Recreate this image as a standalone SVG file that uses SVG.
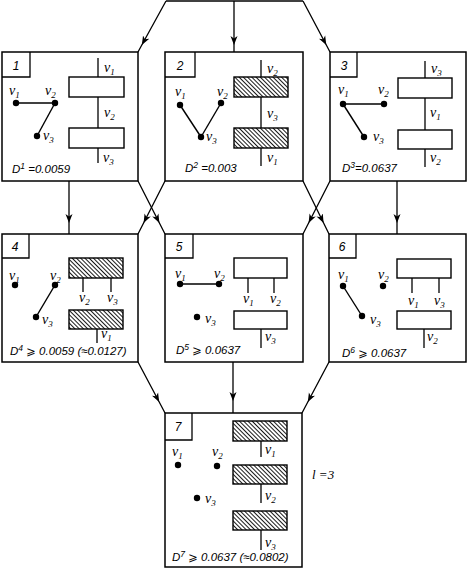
<svg xmlns="http://www.w3.org/2000/svg" width="468" height="571" viewBox="0 0 468 571">
<style>
.box{fill:#fff;stroke:#000;stroke-width:1.5}
.lbl{fill:none;stroke:#000;stroke-width:1.3}
.r{fill:#fff;stroke:#000;stroke-width:1.4}
.h{fill:url(#hatch);stroke:#000;stroke-width:1.4}
.ln{stroke:#000;stroke-width:1.3;fill:none}
.e{stroke:#000;stroke-width:1.4}
.c{fill:none;stroke:#000;stroke-width:1.3;marker-mid:url(#arr)}
.dot{fill:#000}
.v{font-family:"Liberation Serif",serif;font-style:italic;font-size:14px;fill:#000}
.s{font-size:9px}
.n{font-family:"Liberation Sans",sans-serif;font-style:italic;font-size:12px;fill:#000;text-anchor:middle}
.d{font-family:"Liberation Sans","DejaVu Sans",sans-serif;font-style:italic;font-size:11.5px;fill:#000}
.sup{font-size:8.5px}
</style>
<defs>
<pattern id="hatch" patternUnits="userSpaceOnUse" width="3" height="3" patternTransform="rotate(-45)">
<rect width="3" height="3" fill="#fff"/>
<line x1="0.5" y1="0" x2="0.5" y2="3" stroke="#000" stroke-width="0.9"/>
</pattern>
<marker id="arr" markerWidth="10" markerHeight="8" refX="9" refY="4" orient="auto" markerUnits="userSpaceOnUse">
<path d="M9,4 L0,0.5 L2.5,4 L0,7.5 Z" fill="#000"/>
</marker>
</defs>

<g id="connectors">
<path class="ln" d="M166,1 L303,1"/>
<path class="c" d="M166,1 L141.8,45 L138,52"/>
<path class="c" d="M234,1 L234,45 L234,52"/>
<path class="c" d="M303,1 L326.3,45 L330,52"/>
<path class="c" d="M69,181 L69,223 L69,234"/>
<path class="c" d="M138,181 L159.4,223 L165,234"/>
<path class="c" d="M165,181 L143.6,223 L138,234"/>
<path class="c" d="M303,181 L323.6,223 L329,234"/>
<path class="c" d="M330,181 L308.6,223 L303,234"/>
<path class="c" d="M397,181 L397,223 L397,234"/>
<path class="c" d="M138,362 L159.2,402 L165,413"/>
<path class="c" d="M233,362 L233,401 L233,413"/>
<path class="c" d="M329,362 L307.8,402 L302,413"/>
</g>

<g id="node1">
<rect class="box" x="2" y="52" width="136" height="129"/>
<path class="lbl" d="M2,77 H30 V52"/>
<text class="n" x="16" y="70">1</text>
<line class="e" x1="16" y1="103" x2="55" y2="103"/>
<line class="e" x1="55" y1="103" x2="37" y2="136"/>
<circle class="dot" cx="16" cy="103" r="3.2"/>
<circle class="dot" cx="55" cy="103" r="3.2"/>
<circle class="dot" cx="37" cy="136" r="3.2"/>
<text class="v" x="9" y="95">v<tspan class="s" dy="3">1</tspan></text>
<text class="v" x="45" y="95">v<tspan class="s" dy="3">2</tspan></text>
<text class="v" x="43" y="140">v<tspan class="s" dy="3">3</tspan></text>
<line class="ln" x1="98" y1="58" x2="98" y2="163"/>
<rect class="r" x="69" y="77" width="55" height="20"/>
<rect class="r" x="69" y="128" width="55" height="20"/>
<text class="v" x="104" y="72">v<tspan class="s" dy="3">1</tspan></text>
<text class="v" x="104" y="117">v<tspan class="s" dy="3">2</tspan></text>
<text class="v" x="103" y="162">v<tspan class="s" dy="3">3</tspan></text>
<text class="d" x="12" y="173">D<tspan class="sup" dy="-4">1</tspan><tspan dy="4"> =0.0059</tspan></text>
</g>

<g id="node2">
<rect class="box" x="165" y="52" width="138" height="129"/>
<path class="lbl" d="M165,77 H195 V52"/>
<text class="n" x="180" y="70">2</text>
<line class="e" x1="180" y1="105" x2="201" y2="137"/>
<line class="e" x1="221" y1="103" x2="201" y2="137"/>
<circle class="dot" cx="180" cy="105" r="3.2"/>
<circle class="dot" cx="221" cy="103" r="3.2"/>
<circle class="dot" cx="201" cy="137" r="3.2"/>
<text class="v" x="175" y="96">v<tspan class="s" dy="3">1</tspan></text>
<text class="v" x="217" y="96">v<tspan class="s" dy="3">2</tspan></text>
<text class="v" x="206" y="141">v<tspan class="s" dy="3">3</tspan></text>
<line class="ln" x1="261" y1="60" x2="261" y2="166"/>
<rect class="h" x="234" y="77" width="54" height="20"/>
<rect class="h" x="234" y="128" width="54" height="20"/>
<text class="v" x="267" y="73">v<tspan class="s" dy="3">2</tspan></text>
<text class="v" x="267" y="118">v<tspan class="s" dy="3">3</tspan></text>
<text class="v" x="267" y="162">v<tspan class="s" dy="3">1</tspan></text>
<text class="d" x="185" y="172">D<tspan class="sup" dy="-4">2</tspan><tspan dy="4"> =0.003</tspan></text>
</g>

<g id="node3">
<rect class="box" x="330" y="52" width="136" height="129"/>
<path class="lbl" d="M330,77 H357 V52"/>
<text class="n" x="344" y="70">3</text>
<line class="e" x1="343" y1="104" x2="384" y2="104"/>
<line class="e" x1="343" y1="104" x2="364" y2="137"/>
<circle class="dot" cx="343" cy="104" r="3.2"/>
<circle class="dot" cx="384" cy="104" r="3.2"/>
<circle class="dot" cx="364" cy="137" r="3.2"/>
<text class="v" x="338" y="94">v<tspan class="s" dy="3">1</tspan></text>
<text class="v" x="378" y="94">v<tspan class="s" dy="3">2</tspan></text>
<text class="v" x="373" y="141">v<tspan class="s" dy="3">3</tspan></text>
<line class="ln" x1="425" y1="61" x2="425" y2="167"/>
<rect class="r" x="398" y="78" width="54" height="20"/>
<rect class="r" x="398" y="130" width="54" height="19"/>
<text class="v" x="431" y="73">v<tspan class="s" dy="3">3</tspan></text>
<text class="v" x="430" y="117">v<tspan class="s" dy="3">1</tspan></text>
<text class="v" x="430" y="162">v<tspan class="s" dy="3">2</tspan></text>
<text class="d" x="342" y="172">D<tspan class="sup" dy="-4">3</tspan><tspan dy="4">=0.0637</tspan></text>
</g>

<g id="node4">
<rect class="box" x="2" y="234" width="136" height="128"/>
<path class="lbl" d="M2,258 H29 V234"/>
<text class="n" x="15" y="251">4</text>
<line class="e" x1="55" y1="285" x2="36" y2="317"/>
<circle class="dot" cx="15" cy="285" r="3.2"/>
<circle class="dot" cx="55" cy="285" r="3.2"/>
<circle class="dot" cx="36" cy="317" r="3.2"/>
<text class="v" x="9" y="280">v<tspan class="s" dy="3">1</tspan></text>
<text class="v" x="50" y="280">v<tspan class="s" dy="3">2</tspan></text>
<text class="v" x="42" y="324">v<tspan class="s" dy="3">3</tspan></text>
<line class="ln" x1="83" y1="278" x2="83" y2="292"/>
<line class="ln" x1="111" y1="278" x2="111" y2="292"/>
<line class="ln" x1="97" y1="329" x2="97" y2="343"/>
<rect class="h" x="69" y="258" width="54" height="20"/>
<rect class="h" x="69" y="310" width="54" height="19"/>
<text class="v" x="79" y="302">v<tspan class="s" dy="3">2</tspan></text>
<text class="v" x="107" y="302">v<tspan class="s" dy="3">3</tspan></text>
<text class="v" x="101" y="338">v<tspan class="s" dy="3">1</tspan></text>
<text class="d" x="10" y="355">D<tspan class="sup" dy="-4">4</tspan><tspan dy="4"> ⩾ 0.0059 (≈0.0127)</tspan></text>
</g>

<g id="node5">
<rect class="box" x="165" y="234" width="138" height="128"/>
<path class="lbl" d="M165,258 H193 V234"/>
<text class="n" x="179" y="251">5</text>
<line class="e" x1="180" y1="284" x2="219" y2="284"/>
<circle class="dot" cx="180" cy="284" r="3.2"/>
<circle class="dot" cx="219" cy="284" r="3.2"/>
<circle class="dot" cx="197" cy="317" r="3.2"/>
<text class="v" x="175" y="278">v<tspan class="s" dy="3">1</tspan></text>
<text class="v" x="214" y="278">v<tspan class="s" dy="3">2</tspan></text>
<text class="v" x="205" y="323">v<tspan class="s" dy="3">3</tspan></text>
<line class="ln" x1="248" y1="278" x2="248" y2="293"/>
<line class="ln" x1="274" y1="278" x2="274" y2="293"/>
<line class="ln" x1="261" y1="329" x2="261" y2="348"/>
<rect class="r" x="234" y="258" width="53" height="20"/>
<rect class="r" x="234" y="311" width="53" height="18"/>
<text class="v" x="243" y="303">v<tspan class="s" dy="3">1</tspan></text>
<text class="v" x="270" y="303">v<tspan class="s" dy="3">2</tspan></text>
<text class="v" x="265" y="341">v<tspan class="s" dy="3">3</tspan></text>
<text class="d" x="176" y="354">D<tspan class="sup" dy="-4">5</tspan><tspan dy="4"> ⩾ 0.0637</tspan></text>
</g>

<g id="node6">
<rect class="box" x="329" y="234" width="137" height="128"/>
<path class="lbl" d="M329,258 H356 V234"/>
<text class="n" x="342" y="251">6</text>
<line class="e" x1="343" y1="286" x2="362" y2="316"/>
<circle class="dot" cx="343" cy="286" r="3.2"/>
<circle class="dot" cx="383" cy="286" r="3.2"/>
<circle class="dot" cx="362" cy="316" r="3.2"/>
<text class="v" x="338" y="279">v<tspan class="s" dy="3">1</tspan></text>
<text class="v" x="378" y="279">v<tspan class="s" dy="3">2</tspan></text>
<text class="v" x="370" y="324">v<tspan class="s" dy="3">3</tspan></text>
<line class="ln" x1="412" y1="278" x2="412" y2="293"/>
<line class="ln" x1="439" y1="278" x2="439" y2="293"/>
<line class="ln" x1="424" y1="329" x2="424" y2="348"/>
<rect class="r" x="397" y="259" width="54" height="19"/>
<rect class="r" x="397" y="311" width="54" height="18"/>
<text class="v" x="408" y="305">v<tspan class="s" dy="3">1</tspan></text>
<text class="v" x="434" y="305">v<tspan class="s" dy="3">3</tspan></text>
<text class="v" x="427" y="341">v<tspan class="s" dy="3">2</tspan></text>
<text class="d" x="342" y="357">D<tspan class="sup" dy="-4">6</tspan><tspan dy="4"> ⩾ 0.0637</tspan></text>
</g>

<g id="node7">
<rect class="box" x="165" y="413" width="137" height="154"/>
<path class="lbl" d="M165,440 H192 V413"/>
<text class="n" x="178" y="431">7</text>
<circle class="dot" cx="178" cy="465" r="3.2"/>
<circle class="dot" cx="217" cy="466" r="3.2"/>
<circle class="dot" cx="197" cy="498" r="3.2"/>
<text class="v" x="172" y="456">v<tspan class="s" dy="3">1</tspan></text>
<text class="v" x="212" y="456">v<tspan class="s" dy="3">2</tspan></text>
<text class="v" x="205" y="503">v<tspan class="s" dy="3">3</tspan></text>
<line class="ln" x1="261" y1="441" x2="261" y2="457"/>
<line class="ln" x1="261" y1="484" x2="261" y2="503"/>
<line class="ln" x1="261" y1="530" x2="261" y2="550"/>
<rect class="h" x="233" y="421" width="54" height="20"/>
<rect class="h" x="233" y="465" width="54" height="19"/>
<rect class="h" x="233" y="511" width="54" height="19"/>
<text class="v" x="265" y="454">v<tspan class="s" dy="3">1</tspan></text>
<text class="v" x="265" y="500">v<tspan class="s" dy="3">2</tspan></text>
<text class="v" x="265" y="547">v<tspan class="s" dy="3">3</tspan></text>
<text class="d" x="172" y="561">D<tspan class="sup" dy="-4">7</tspan><tspan dy="4"> ⩾ 0.0637 (≈0.0802)</tspan></text>
</g>

<text class="v" x="312" y="479" style="font-size:13px">l =3</text>
</svg>
